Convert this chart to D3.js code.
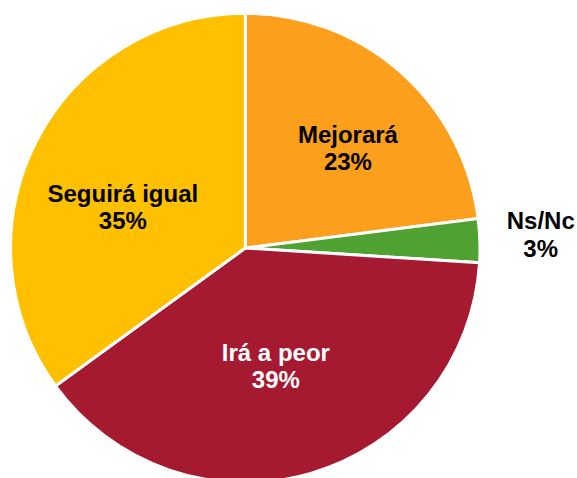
<!DOCTYPE html>
<html><head><meta charset="utf-8">
<script src="https://cdn.jsdelivr.net/npm/d3@7"></script>
<style>html,body{margin:0;padding:0;background:#fff;}svg{display:block;}</style>
</head><body>
<script>
const categories = ["Mejorará", "Ns/Nc", "Irá a peor", "Seguirá igual"];
const values = [23, 3, 39, 35];
const valueLabels = ["23%", "3%", "39%", "35%"];

const colors = {"Mejorará":"#FB9F1C","Ns/Nc":"#4FA232","Irá a peor":"#A51931","Seguirá igual":"#FFC000"};
const textColors = {"Mejorará":"#000","Ns/Nc":"#000","Irá a peor":"#fff","Seguirá igual":"#000"};
// label placement: radius factor and angle offset (deg) relative to slice centroid angle
const labelLayout = {"Mejorará":[0.61,4.4],"Ns/Nc":[1.26,-0.8],"Irá a peor":[0.52,1.7],"Seguirá igual":[0.55,-8.6]};

const W=577,H=478, cx=245.3, cy=248, R=234.7;
const svg=d3.select("body").append("svg").attr("width",W).attr("height",H);
const g=svg.append("g").attr("transform",`translate(${cx},${cy})`);
const data=categories.map((c,i)=>({cat:c,value:values[i],label:valueLabels[i]}));
const pie=d3.pie().value(d=>d.value).sort(null);
const arc=d3.arc().innerRadius(0).outerRadius(R);
const arcs=pie(data);
g.selectAll("path").data(arcs).join("path")
  .attr("d",arc).attr("fill",d=>colors[d.data.cat])
  .attr("stroke","#fff").attr("stroke-width",3).attr("stroke-linejoin","miter");
const lbl=g.selectAll("text").data(arcs).join("text")
  .attr("font-family","'Liberation Sans', Arial, sans-serif").attr("font-weight","bold")
  .attr("font-size",24).attr("text-anchor","middle")
  .attr("fill",d=>textColors[d.data.cat])
  .attr("transform",d=>{
    const [f,off]=labelLayout[d.data.cat];
    const a=(d.startAngle+d.endAngle)/2+off*Math.PI/180;
    return `translate(${Math.sin(a)*R*f},${-Math.cos(a)*R*f})`;
  });
lbl.append("tspan").attr("x",0).attr("y",-5.5).text(d=>d.data.cat);
lbl.append("tspan").attr("x",0).attr("y",22).text(d=>d.data.label);
</script>
</body></html>
